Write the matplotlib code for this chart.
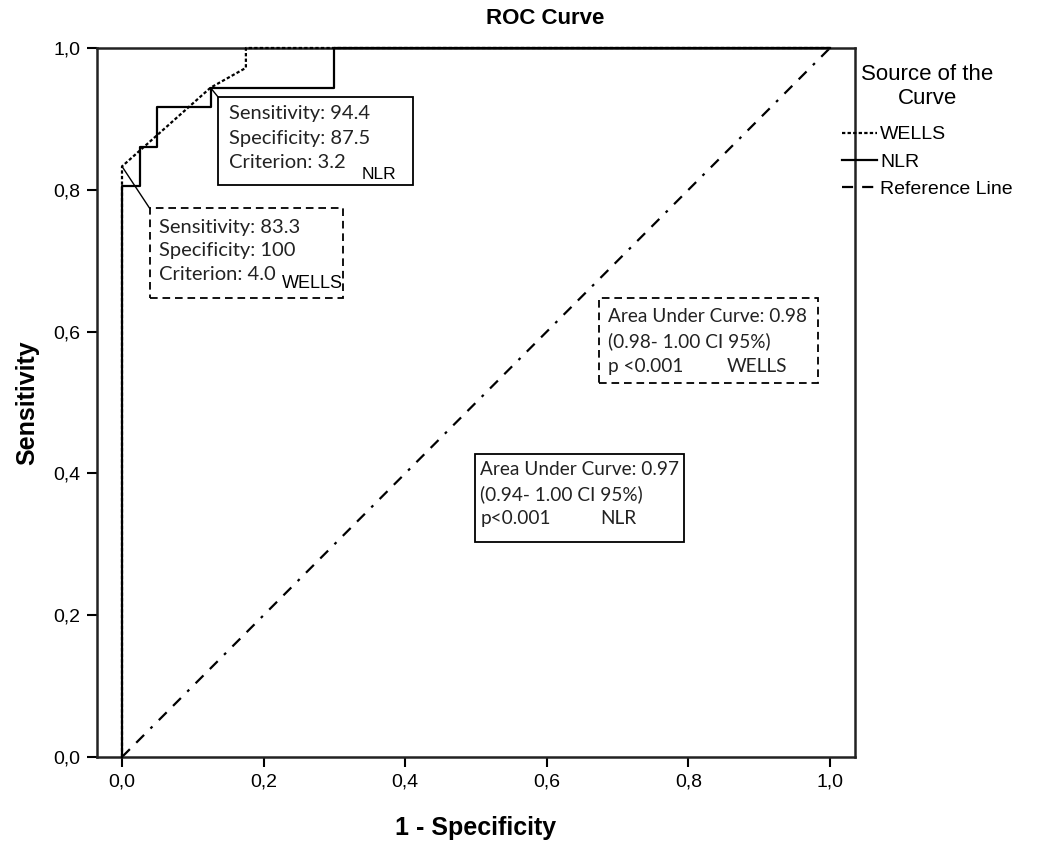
import matplotlib
matplotlib.use("Agg")
import matplotlib.pyplot as plt
from matplotlib.patches import Rectangle

# ---- data ----
wells_fpr = [0.0, 0.0, 0.125, 0.175, 0.175, 1.0]
wells_tpr = [0.0, 0.833, 0.944, 0.972, 1.0, 1.0]
nlr_fpr = [0.0, 0.0, 0.025, 0.025, 0.05, 0.05, 0.125, 0.125, 0.3, 0.3, 1.0]
nlr_tpr = [0.0, 0.806, 0.806, 0.861, 0.861, 0.917, 0.917, 0.944, 0.944, 1.0, 1.0]
ref_x = [0.0, 1.0]
ref_y = [0.0, 1.0]
ticks = [0.0, 0.2, 0.4, 0.6, 0.8, 1.0]
tick_labels = ["0,0", "0,2", "0,4", "0,6", "0,8", "1,0"]
series_labels = ["WELLS", "NLR", "Reference Line"]
nlr_cut = ["Sensitivity: 94.4", "Specificity: 87.5", "Criterion: 3.2"]
wells_cut = ["Sensitivity: 83.3", "Specificity: 100", "Criterion: 4.0"]
wells_auc = ["Area Under Curve: 0.98", "(0.98- 1.00 CI 95%)", "p <0.001"]
nlr_auc = ["Area Under Curve: 0.97", "(0.94- 1.00 CI 95%)", "p<0.001"]
nlr_point = (0.125, 0.944)
wells_point = (0.0, 0.833)

plt.rcParams['lines.scale_dashes'] = False
W, H = 1042, 848
fig = plt.figure(figsize=(W / 100, H / 100), dpi=100)
ax = fig.add_axes([97 / W, 1 - 757 / H, (855 - 97) / W, (757 - 48) / H])
ax.set_xlim(-25 / 708, 1 + 25 / 708)
ax.set_ylim(0, 1)

sans = "Liberation Sans"
cal = "Lato"

l_w, = ax.plot(wells_fpr, wells_tpr, color="black", lw=1.6, dashes=(2.4, 1.6),
               clip_on=False, zorder=4, label=series_labels[0])
l_n, = ax.plot(nlr_fpr, nlr_tpr, color="black", lw=1.6, clip_on=False, zorder=3,
               label=series_labels[1])
l_r, = ax.plot(ref_x, ref_y, color="black", lw=1.6,
               dashes=(8.0, 6.5, 8.0, 6.5, 2.0, 6.5), zorder=2, label=series_labels[2])

for s in ["left", "bottom", "top", "right"]:
    ax.spines[s].set_linewidth(1.8)
    ax.spines[s].set_color("#222222")

ax.set_xticks(ticks)
ax.set_xticklabels(tick_labels, fontsize=14, family=sans)
ax.set_yticks(ticks)
ax.set_yticklabels(tick_labels, fontsize=14, family=sans)
ax.tick_params(direction="out", length=7, width=1.5, pad=5)
ax.set_xlabel("1 - Specificity", fontsize=18, fontweight="bold", family=sans, labelpad=18)
ax.set_ylabel("Sensitivity", fontsize=18, fontweight="bold", family=sans, labelpad=10)
fig.text(545 / W, 1 - 19 / H, "ROC Curve", fontsize=16, fontweight="bold",
         family=sans, ha="center", va="center")


def box(x0, y0, x1, y1, dashed):
    r = Rectangle((x0, y0), x1 - x0, y1 - y0, facecolor="white", edgecolor="black",
                  lw=1.3, zorder=5)
    if dashed:
        r.set_linestyle((0, (5.5, 3.5)))
    ax.add_patch(r)


def lines_text(x, ys, texts, size=14.5):
    for y, t in zip(ys, texts):
        ax.text(x, y, t, fontsize=size, family=cal, va="center", ha="left",
                color="#222222", zorder=6)


# NLR cutoff box
box(0.1356, 0.807, 0.411, 0.931, False)
lines_text(0.151, [0.908, 0.873, 0.838], nlr_cut)
ax.text(0.339, 0.822, "NLR", fontsize=12.5, family=sans, va="center", zorder=6)
ax.plot([nlr_point[0], 0.1356], [nlr_point[1], 0.931], color="black", lw=1.0, zorder=6)

# WELLS cutoff box
box(0.039, 0.647, 0.312, 0.774, True)
lines_text(0.052, [0.747, 0.714, 0.680], wells_cut)
ax.text(0.226, 0.668, "WELLS", fontsize=13, family=sans, va="center", zorder=6)
ax.plot([wells_point[0], 0.039], [wells_point[1], 0.774], color="black", lw=1.0, zorder=6)

# AUC boxes
box(0.674, 0.527, 0.983, 0.647, True)
lines_text(0.686, [0.622, 0.587, 0.551], wells_auc, size=13.7)
ax.text(0.854, 0.551, "WELLS", fontsize=13.7, family=cal, va="center", color="#222222", zorder=6)

box(0.4986, 0.303, 0.794, 0.428, False)
lines_text(0.506, [0.405, 0.370, 0.336], nlr_auc, size=13.7)
ax.text(0.675, 0.336, "NLR", fontsize=13.7, family=cal, va="center", color="#222222", zorder=6)

leg = ax.legend(handles=[l_w, l_n, l_r], title="Source of the\nCurve",
                loc="upper left", bbox_to_anchor=(842 / W, 1 - 64 / H),
                bbox_transform=fig.transFigure, frameon=False,
                prop={"family": sans, "size": 14}, handlelength=1.8,
                handletextpad=0.15, labelspacing=0.5, borderaxespad=0,
                borderpad=0, alignment="center")
leg.get_title().set_fontsize(16)
leg.get_title().set_family(sans)
leg.get_title().set_multialignment("center")
leg._legend_box.sep = 12

fig.savefig("out.png", dpi=100)
